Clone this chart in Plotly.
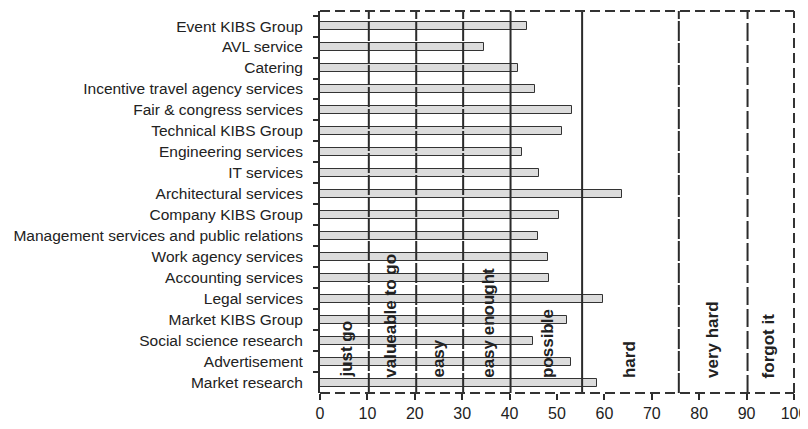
import plotly.graph_objects as go

categories = [
    "Event KIBS Group", "AVL service", "Catering", "Incentive travel agency services",
    "Fair & congress services", "Technical KIBS Group", "Engineering services", "IT services",
    "Architectural services", "Company KIBS Group", "Management services and public relations",
    "Work agency services", "Accounting services", "Legal services", "Market KIBS Group",
    "Social science research", "Advertisement", "Market research",
]
values = [43.7, 34.6, 41.8, 45.3, 53.1, 51.0, 42.7, 46.3, 63.7, 50.5, 46.0, 48.0, 48.4, 59.7,
          52.1, 45.0, 53.0, 58.4]

zone_bounds = [10.3, 20.3, 30.2, 40.2, 55.3, 75.7, 90.2]
zone_dash = ["20px,2px", "20px,2px", "20px,2px", "solid", "solid", "20px,2px", "18px,4px"]
zone_labels = ["just go", "valueable to go", "easy", "easy enought", "possible", "hard",
               "very hard", "forgot it"]
zone_label_x = [5.5, 14.7, 24.8, 35.4, 48.0, 65.3, 82.8, 94.7]

x_ticks = [0, 10, 20, 30, 40, 50, 60, 70, 80, 90, 100]

INK = "#2b2b2b"
FONT = "Liberation Sans, Arial, sans-serif"

fig = go.Figure()
fig.add_trace(go.Bar(
    y=categories, x=values, orientation="h", width=0.38,
    marker=dict(color="#dcdcdc", line=dict(color="#333333", width=1)),
    hoverinfo="x+y",
))

shapes = []
for xb, d in zip(zone_bounds, zone_dash):
    shapes.append(dict(type="line", xref="x", yref="paper", x0=xb, x1=xb, y0=0, y1=1,
                       line=dict(color=INK, width=2, dash=d)))
# dashed border: top, right, bottom
border = dict(color="#333333", width=2, dash="10px,5px")
shapes.append(dict(type="line", xref="paper", yref="paper", x0=0, x1=1, y0=1, y1=1, line=border))
shapes.append(dict(type="line", xref="paper", yref="paper", x0=1, x1=1, y0=0, y1=1, line=border))
shapes.append(dict(type="line", xref="paper", yref="paper", x0=0, x1=1, y0=0, y1=0, line=border))

annotations = []
for lab, xl in zip(zone_labels, zone_label_x):
    annotations.append(dict(x=xl, y=0.034, xref="x", yref="paper", text="<b>" + lab + "</b>",
                            textangle=-90, showarrow=False, xanchor="center", yanchor="bottom",
                            font=dict(family=FONT, size=17, color="#222222")))

fig.update_layout(
    width=800, height=421,
    margin=dict(l=312, r=14, t=3, b=36),
    paper_bgcolor="white", plot_bgcolor="white",
    showlegend=False, bargap=0,
    shapes=shapes, annotations=annotations,
    xaxis=dict(range=[0, 100], tickvals=x_ticks, showgrid=False, zeroline=False,
               showline=False, ticks="outside", ticklen=6, tickwidth=1.5, tickcolor=INK,
               automargin=False,
               tickfont=dict(family=FONT, size=16, color="#222222")),
    yaxis=dict(categoryorder="array", categoryarray=categories, range=[17.5, -0.72],
               showgrid=False, zeroline=False, showline=True, linecolor=INK, linewidth=2,
               ticks="outside", tickson="boundaries", ticklen=5, tickwidth=1.5, tickcolor=INK,
               ticklabelstandoff=12, automargin=False,
               tickfont=dict(family=FONT, size=15.5, color="#222222")),
)

fig.write_html("out.html")
